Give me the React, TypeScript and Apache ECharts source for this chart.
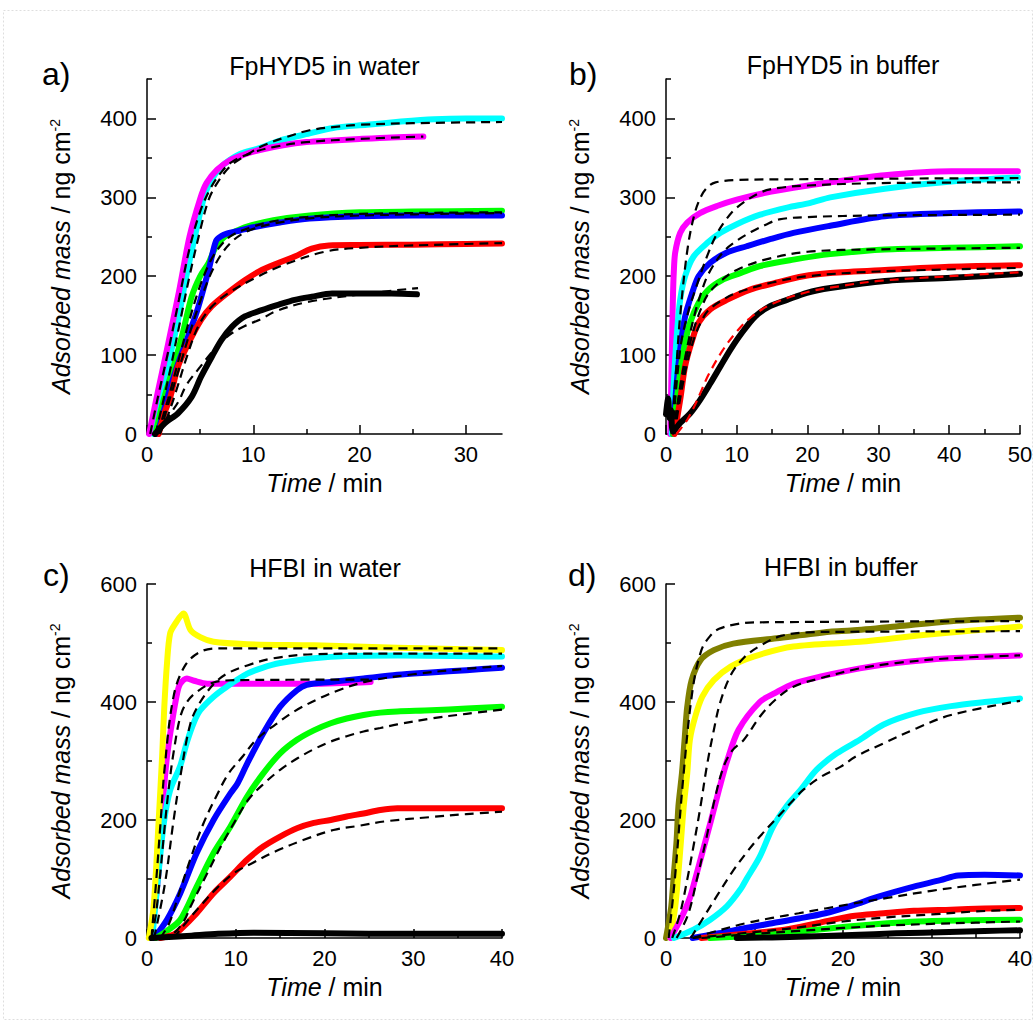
import React, { useEffect, useRef } from "react";
import * as echarts from "echarts";

// ---------- tick values ----------
const aXMajor = [0, 10, 20, 30];
const aXMinor = [5, 15, 25];
const bXMajor = [0, 10, 20, 30, 40, 50];
const bXMinor = [5, 15, 25, 35, 45];
const cdXMajor = [0, 10, 20, 30, 40];
const cdXMinor = [5, 15, 25, 35];
const abYMajor = [0, 100, 200, 300, 400];
const abYMinor = [50, 150, 250, 350, 450];
const cdYMajor = [0, 200, 400, 600];
const cdYMinor = [100, 300, 500];

// ---------- panel a: FpHYD5 in water ----------
const aCyan = [[0.6,0],[1.4,50],[2.2,100],[3.0,150],[3.7,200],[4.5,250],[5.3,297],[5.9,318],[7.0,339],[8.75,355],[10.5,362],[12.5,372],[15.3,381],[17.5,388],[20.7,392],[23.9,396],[27,399],[30,400],[33.4,400]];
const aMagenta = [[0.2,0],[1,52],[2,115],[3,180],[4,250],[5,298],[5.6,318],[6.6,335],[7.8,347],[9.1,354],[10.6,360],[12.8,366],[15,370],[17.5,372],[20,374],[23,376],[26,377]];
const aGreen = [[0.8,0],[1.6,45],[2.6,90],[3.4,130],[4.2,174],[5.0,200],[5.8,217],[6.5,238],[7.3,250],[8,255],[9.4,263],[11.9,271],[15.3,277],[20,281],[25,282],[33.4,283]];
const aBlue = [[1.0,0],[2,50],[2.9,88],[3.9,125],[4.8,160],[5.8,208],[6.5,245],[7,251],[7.5,254],[8.75,258],[10,262],[12.5,268],[15.3,273],[20,276],[25,277],[33.4,277]];
const aRed = [[1.1,0],[1.6,25],[2.2,47],[2.9,85],[3.9,115],[5.1,145],[6.1,162],[7.6,179],[9.2,195],[10.8,208],[12.4,217],[13.9,225],[15.5,235],[17.1,239],[20,239.5],[25,240],[30,241],[33.4,241.6]];
const aBlack = [[0.75,0],[1.7,14],[2.9,26],[4.2,47],[5.1,73],[6.1,98],[7.0,119],[8.0,136],[9.2,149],[10.8,157],[12.4,164],[13.9,170],[15.5,174],[17.4,178],[20.7,178],[23,178],[25.4,177]];
const aCyanFit = [[0.8,0],[2,70],[3,135],[4,200],[5,258],[5.8,297],[6.6,318],[7.8,339],[9.4,354],[11,366],[13,376],[15.3,385],[17.5,389],[20,392],[25,394],[33.4,395.5]];
const aMagentaFit = [[0.3,0],[1,45],[2,105],[3,170],[4,235],[5,282],[6,312],[7,332],[8,345],[10,357],[12,364],[15,370],[20,374],[26,377]];
const aGreenFit = [[1.0,0],[2,45],[3,95],[4,145],[5,188],[6,220],[7,240],[8,252],[10,263],[12,270],[15,275],[20,279],[33.4,281]];
const aBlueFit = [[1.2,0],[2,38],[3,82],[4,127],[5,168],[6,203],[7,228],[8,244],[9,254],[10,260],[12,267],[15,273],[20,277],[33.4,280]];
const aRedFit = [[1.2,0],[2,25],[2.8,57],[3.8,100],[4.8,136],[6,160],[7.6,178],[10.2,198],[12.8,214],[16.7,231],[20,236],[25,239],[33.4,242]];
const aBlackFit = [[0.8,0],[2,22],[3,42],[3.7,62],[5,85],[6,102],[7,117],[8,128],[9.2,137],[10.8,146],[12,155],[15,167],[20,177],[25.5,185]];

// ---------- panel b: FpHYD5 in buffer ----------
const bMagenta = [[0.6,0],[0.7,40],[0.8,90],[0.9,140],[1.0,180],[1.1,205],[1.3,230],[2.0,255],[3.0,268],[4.8,280],[7.2,289],[10,297],[14.2,306],[18,312],[23.2,319],[30.9,328],[40.3,333],[49.7,333]];
const bCyan = [[0.8,0],[1.1,64],[1.55,128],[2.0,170],[2.7,200],[3.9,225],[5.8,242],[7.7,255],[10,266],[13.3,278],[17.1,287],[20.4,293],[23.2,300],[30.9,311],[40.3,320],[49.7,325]];
const bBlue = [[1.0,0],[1.5,64],[2.0,107],[2.7,149],[3.7,179],[4.6,200],[6.25,217],[8.6,230],[11.4,238],[14.7,247],[18,255],[23.2,264],[30.9,276],[40.3,280],[50,282]];
const bGreen = [[1.0,0],[1.8,64],[2.5,107],[3.4,141],[4.6,166],[6.0,183],[8.1,196],[10.5,204],[13.3,213],[18,221],[23.2,228],[30.9,234],[40,236],[50,238]];
const bRed = [[1.2,0],[2.0,43],[2.7,86],[3.7,119],[4.6,141],[6.25,158],[8.6,170],[11.9,183],[15.2,191],[19.4,200],[23.2,204],[30.9,208],[40,212],[50,214]];
const bBlack = [[0,25],[0.3,45],[0.5,20],[0.7,30],[1.0,3],[2.0,14],[3.4,26],[4.8,43],[6.25,64],[7.7,86],[9.1,107],[10.7,128],[12.6,149],[14.7,162],[17.1,170],[19.9,179],[23.2,185],[30.9,194],[40.3,198],[50,203]];
const bMagentaFit = [[0.8,0],[1.5,90],[2,150],[3,232],[4,278],[5,302],[6,314],[7,319],[10,322],[20,323],[50,324.5]];
const bCyanFit = [[0.9,0],[2,107],[3,150],[4.4,190],[6,230],[7.2,254],[8.5,272],[10,287],[13.3,306],[16,312],[20,315],[30,318],[50,319]];
const bBlueFit = [[1.0,0],[2,60],[3,110],[4,150],[5,180],[6,203],[8,230],[10,245],[12,256],[14,265],[16,272],[20,275],[30,277],[50,278]];
const bGreenFit = [[1.0,0],[2,55],[3,100],[4,135],[5,160],[6,178],[8,196],[10,208],[14,221],[20,231],[30,234],[50,236]];
const bRedFit = [[1.2,0],[2,45],[3,90],[4,122],[5,143],[6,157],[8,170],[10,179],[15,192],[20,200],[30,206],[50,210.5]];
const bBlackFit = [[1.5,0],[3,18],[4,35],[5,55],[6,75],[8,106],[10,130],[12,148],[15,165],[20,180],[25,188],[30,194],[40,200],[50,205]];

// ---------- panel c: HFBI in water ----------
const cMagenta = [[0.4,0],[0.75,37],[1.3,110],[1.6,195],[1.9,251],[2.25,307],[2.8,364],[3.4,415],[3.75,431],[4.5,440],[5.3,436],[6.8,431],[10.5,431],[18.4,431],[25.2,434]];
const cCyan = [[0.6,0],[0.75,25],[1.3,110],[1.9,195],[2.6,250],[3.75,292],[4.5,332],[5.3,366],[6,386],[7.5,409],[9,426],[11.3,448],[13,458],[15,466],[18.8,474],[22.5,478],[28.2,479],[40,477]];
const cYellow = [[0.2,0],[0.75,54],[1.3,195],[1.7,307],[1.95,392],[2.25,465],[2.6,516],[3.2,533],[4.1,550],[4.9,522],[6,510],[7.5,502],[11.3,498],[18.8,496],[28.2,492],[40,488]];
const cBlue = [[0.8,0],[2.25,31],[3.75,76],[5.6,144],[7.5,200],[9.4,245],[10.2,262],[11.3,296],[13.1,347],[15,392],[16.9,420],[18,429],[20.7,434],[24.4,440],[28.2,446],[32,450],[36,454],[40,458]];
const cGreen = [[1.0,0],[2.25,12],[3.75,31],[5.6,87],[7.5,144],[9.4,189],[11.3,240],[13.1,279],[15,313],[16.9,336],[18.8,352],[20.7,364],[22.5,372],[24.4,378],[26.3,382],[28.2,384],[32,386],[36,389],[40,392]];
const cRed = [[1.5,0],[3,6],[3.75,14],[5.6,42],[7.5,76],[9.4,104],[11.3,133],[13.1,155],[15,172],[16.9,186],[18.8,195],[20.7,200],[22.5,206],[24.4,211],[26.3,217],[28.2,220],[32,220],[36,220],[40,220]];
const cBlack = [[0.5,0],[3,2],[5,4],[8,7],[12,9],[20,8],[30,7],[40,7]];
const cYellowFit = [[0.5,0],[1,90],[1.5,190],[2,290],[3,410],[4.3,462],[6,485],[8,491],[40,491]];
const cMagentaFit = [[0.5,0],[1,40],[1.5,110],[2,190],[2.5,260],[3,315],[3.75,375],[4.5,400],[5.6,417],[7.5,433],[10,437],[25,438]];
const cCyanFit = [[0.8,0],[2,90],[3,200],[3.75,273],[4.9,364],[6,400],[7.5,430],[9,448],[11.3,462],[14.2,474],[18.8,481],[25,482],[40,482]];
const cBlueFit = [[1.5,0],[2.5,25],[3.5,70],[4.8,130],[6.3,192],[7.8,240],[9.2,279],[10.8,308],[12.3,336],[14.5,362],[16.7,385],[19.4,406],[21.6,420],[24.8,435],[30,447],[35,455],[40,461]];
const cGreenFit = [[1.5,0],[3,8],[4.2,30],[4.9,53],[6.8,110],[8.5,160],[10,200],[11.5,236],[13.2,262],[15,285],[17,305],[18.8,320],[20.7,333],[22.5,342],[24.4,350],[26.3,356],[28.2,362],[32,372],[36,380],[40,387]];
const cRedFit = [[3,0],[4.5,28],[6,54],[7.9,85],[9.8,110],[12,128],[14.5,147],[17.6,166],[21,183],[23.8,190],[27,198],[32,205],[36,210],[40,214]];

// ---------- panel d: HFBI in buffer ----------
const dOlive = [[0,0],[0.3,25],[0.6,54],[0.9,110],[1.2,166],[1.4,223],[1.8,279],[2.1,336],[2.4,392],[2.9,437],[3.9,471],[5.4,488],[7.6,499],[12.5,508],[18.5,519],[20.9,521],[26,528],[32.2,537],[40,543]];
const dYellow = [[0.5,0],[1.05,54],[1.4,110],[1.7,166],[2.0,223],[2.4,279],[2.7,336],[3.3,375],[4.1,409],[5.4,437],[7.3,460],[9.9,477],[14.4,494],[21.9,502],[30,515],[40,528]];
const dMagenta = [[0.5,0],[1.6,30],[2.7,68],[3.3,100],[4.2,150],[5.1,200],[6,252],[6.9,300],[8.2,353],[10.6,400],[12.3,415],[14.4,431],[17.4,443],[21.9,457],[26,466],[32,474],[40,479]];
const dCyan = [[0.9,0],[3.1,14],[5,31],[6.9,54],[8.4,82],[9.1,100],[10.6,138],[12.1,189],[13.6,223],[15.2,251],[17,285],[19.3,313],[21.9,336],[24.6,362],[28.4,382],[32.2,393],[36,400],[40,406]];
const dBlue = [[3,0],[6,8],[9,17],[12,25],[15,33],[18,42],[21,55],[24,70],[28,87],[31,98],[33,106],[36,107],[40,106]];
const dRed = [[4,0],[9.6,8],[13.4,14],[17.1,25],[20.9,37],[24.6,42],[28,46],[32.2,48],[36,50],[40,51]];
const dGreen = [[5,0],[10,4],[13.4,8],[17,14],[20.9,20],[25,25],[28.4,28],[34,30],[40,31]];
const dBlack = [[8,0],[15,2],[21,5],[26,8],[32,10],[36,12],[40,13]];
const dOliveFit = [[0.3,0],[1,100],[2,280],[3,420],[4,488],[5,512],[6,524],[8,532],[10,535],[40,537]];
const dYellowFit = [[0.7,0],[1.6,42],[2.4,99],[3.1,155],[3.9,223],[4.6,290],[5.4,352],[6.1,398],[7.3,445],[8.8,475],[10.6,495],[13,512],[16,518],[20,519],[40,520]];
const dMagentaFit = [[1.2,0],[2.5,40],[3.5,100],[4.5,165],[5.5,235],[6.5,290],[7.5,318],[8.8,336],[10.6,375],[12.3,403],[14.4,426],[17.4,440],[21.9,457],[26,466],[32,474],[40,479]];
const dCyanFit = [[2.8,0],[3.95,28],[5.7,70],[7.4,110],[9.06,144],[10.6,172],[12.5,203],[14.4,234],[15.5,251],[17.6,274],[19.7,290],[21.5,308],[24.6,330],[28.4,356],[32.2,378],[40,402]];
const dBlueFit = [[3,0],[6,13],[9,25],[12,34],[15,42],[18,50],[21,58],[25,68],[30,80],[35,90],[40,99]];
const dRedFit = [[3,0],[10,10],[15,18],[20,28],[25,35],[30,40],[35,45],[40,48]];
const dGreenFit = [[4,0],[10,7],[15,12],[20,17],[25,21],[30,24],[35,26],[40,28]];
const dBlackFit = [[8,0],[20,4],[30,8],[40,12]];

const FONT = "'Liberation Sans', Arial, Helvetica, sans-serif";
const C = {
  magenta: "#ff00ff", cyan: "#00ffff", green: "#00ff00", blue: "#0000ff",
  red: "#ff0000", black: "#000000", yellow: "#ffff00", olive: "#808000",
};

const GRIDS = [
  { left: 147, top: 79, width: 355, height: 355 },
  { left: 666, top: 79, width: 354, height: 355 },
  { left: 147, top: 584, width: 355, height: 354 },
  { left: 666, top: 584, width: 354, height: 354 },
];

function axes(k: number, xMax: number, xMaj: number[], xMin: number[], yMax: number, yMaj: number[], yMin: number[]) {
  const lineStyle = { color: "#000", width: 1.5 };
  const xMain = {
    type: "value", gridIndex: k, min: 0, max: xMax, position: "bottom",
    axisLine: { show: true, onZero: false, lineStyle },
    axisTick: { show: true, inside: true, length: 9, customValues: xMaj, lineStyle },
    axisLabel: { show: true, customValues: xMaj, margin: 9, fontSize: 22, color: "#000", fontFamily: FONT },
    splitLine: { show: false },
    name: "{i|Time} / min", nameLocation: "middle", nameGap: 36,
    nameTextStyle: { fontSize: 25, color: "#000", fontFamily: FONT, rich: { i: { fontStyle: "italic", fontSize: 25, color: "#000", fontFamily: FONT } } },
  };
  const xMinor = {
    type: "value", gridIndex: k, min: 0, max: xMax, position: "bottom",
    axisLine: { show: false },
    axisTick: { show: true, inside: true, length: 5, customValues: xMin, lineStyle },
    axisLabel: { show: false }, splitLine: { show: false },
  };
  const yMain = {
    type: "value", gridIndex: k, min: 0, max: yMax, position: "left",
    axisLine: { show: true, onZero: false, lineStyle },
    axisTick: { show: true, inside: true, length: 9, customValues: yMaj, lineStyle },
    axisLabel: { show: true, customValues: yMaj, margin: 10, fontSize: 22, color: "#000", fontFamily: FONT },
    splitLine: { show: false },
    name: "{i|Adsorbed mass} / ng cm{s|-2}", nameLocation: "middle", nameGap: 74, nameRotate: 90,
    nameTextStyle: {
      fontSize: 25, color: "#000", fontFamily: FONT,
      rich: {
        i: { fontStyle: "italic", fontSize: 25, color: "#000", fontFamily: FONT },
        s: { fontSize: 14, color: "#000", fontFamily: FONT, verticalAlign: "top" },
      },
    },
  };
  const yMinor = {
    type: "value", gridIndex: k, min: 0, max: yMax, position: "left",
    axisLine: { show: false },
    axisTick: { show: true, inside: true, length: 5, customValues: yMin, lineStyle },
    axisLabel: { show: false }, splitLine: { show: false },
  };
  return { x: [xMain, xMinor], y: [yMain, yMinor] };
}

function dataLine(data: number[][], color: string, k: number) {
  return {
    type: "line", xAxisIndex: 2 * k, yAxisIndex: 2 * k, data, symbol: "none",
    smooth: 0.3, silent: true, z: 2,
    lineStyle: { color, width: 6, cap: "round", join: "round" },
  };
}
function fitLine(data: number[][], k: number, color = "#000") {
  return {
    type: "line", xAxisIndex: 2 * k, yAxisIndex: 2 * k, data, symbol: "none",
    smooth: 0.35, silent: true, z: 3,
    lineStyle: { color, width: 2.2, type: [9, 6] },
  };
}

export default function App() {
  const ref = useRef<HTMLDivElement>(null);
  useEffect(() => {
    if (!ref.current) return;
    const chart = echarts.init(ref.current, undefined, { renderer: "svg" });
    const A = axes(0, 33.4, aXMajor, aXMinor, 450, abYMajor, abYMinor);
    const B = axes(1, 50, bXMajor, bXMinor, 450, abYMajor, abYMinor);
    const Cc = axes(2, 40, cdXMajor, cdXMinor, 600, cdYMajor, cdYMinor);
    const D = axes(3, 40, cdXMajor, cdXMinor, 600, cdYMajor, cdYMinor);
    const series = [
      dataLine(aCyan, C.cyan, 0), dataLine(aMagenta, C.magenta, 0), dataLine(aGreen, C.green, 0),
      dataLine(aBlue, C.blue, 0), dataLine(aRed, C.red, 0), dataLine(aBlack, C.black, 0),
      fitLine(aCyanFit, 0), fitLine(aMagentaFit, 0), fitLine(aGreenFit, 0), fitLine(aBlueFit, 0),
      fitLine(aRedFit, 0), fitLine(aBlackFit, 0),

      dataLine(bMagenta, C.magenta, 1), dataLine(bCyan, C.cyan, 1), dataLine(bBlue, C.blue, 1),
      dataLine(bGreen, C.green, 1), dataLine(bRed, C.red, 1), dataLine(bBlack, C.black, 1),
      fitLine(bMagentaFit, 1), fitLine(bCyanFit, 1), fitLine(bBlueFit, 1), fitLine(bGreenFit, 1),
      fitLine(bRedFit, 1), fitLine(bBlackFit, 1, C.red),

      dataLine(cMagenta, C.magenta, 2), dataLine(cCyan, C.cyan, 2), dataLine(cYellow, C.yellow, 2),
      dataLine(cBlue, C.blue, 2), dataLine(cGreen, C.green, 2), dataLine(cRed, C.red, 2),
      dataLine(cBlack, C.black, 2),
      fitLine(cYellowFit, 2), fitLine(cMagentaFit, 2), fitLine(cCyanFit, 2), fitLine(cBlueFit, 2),
      fitLine(cGreenFit, 2), fitLine(cRedFit, 2),

      dataLine(dOlive, C.olive, 3), dataLine(dYellow, C.yellow, 3), dataLine(dMagenta, C.magenta, 3),
      dataLine(dCyan, C.cyan, 3), dataLine(dBlue, C.blue, 3), dataLine(dRed, C.red, 3),
      dataLine(dGreen, C.green, 3), dataLine(dBlack, C.black, 3),
      fitLine(dOliveFit, 3), fitLine(dYellowFit, 3), fitLine(dMagentaFit, 3), fitLine(dCyanFit, 3),
      fitLine(dBlueFit, 3), fitLine(dRedFit, 3), fitLine(dGreenFit, 3), fitLine(dBlackFit, 3),
    ];
    const txt = (text: string, x: number, y: number, size: number, align = "center") => ({
      type: "text", x, y, silent: true,
      style: { text, fill: "#000", font: `${size}px ${FONT}`, align, verticalAlign: "middle" },
    });
    chart.setOption({
      animation: false,
      backgroundColor: "#ffffff",
      grid: GRIDS.map((g) => ({ ...g, containLabel: false, outerBoundsMode: "none" })),
      xAxis: [...A.x, ...B.x, ...Cc.x, ...D.x],
      yAxis: [...A.y, ...B.y, ...Cc.y, ...D.y],
      series,
      graphic: [
        {
          type: "rect", silent: true, z: -1,
          shape: { x: 3.5, y: 10.5, width: 1029, height: 1009 },
          style: { fill: "none", stroke: "#dedede", lineWidth: 1, lineDash: [2, 2] },
        },
        txt("a)", 42, 74, 32, "left"),
        txt("b)", 569, 74, 32, "left"),
        txt("c)", 43, 575, 32, "left"),
        txt("d)", 568, 575, 32, "left"),
        txt("FpHYD5 in water", 324.5, 66, 25),
        txt("FpHYD5 in buffer", 843, 65, 25),
        txt("HFBI in water", 325, 568, 25),
        txt("HFBI in buffer", 841, 567, 25),
      ],
    });
    return () => chart.dispose();
  }, []);
  return (
    <div
      ref={ref}
      style={{ position: "fixed", left: 0, top: 0, width: 1036, height: 1023, background: "#fff" }}
    />
  );
}
